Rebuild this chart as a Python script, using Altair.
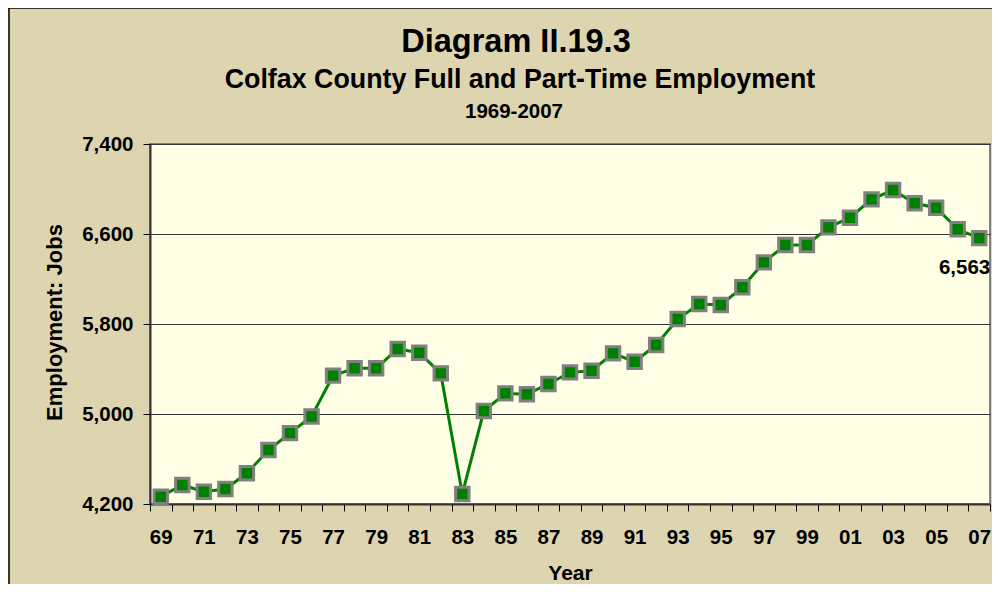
import altair as alt
import pandas as pd

years = [1969, 1970, 1971, 1972, 1973, 1974, 1975, 1976, 1977, 1978, 1979,
         1980, 1981, 1982, 1983, 1984, 1985, 1986, 1987, 1988, 1989, 1990,
         1991, 1992, 1993, 1994, 1995, 1996, 1997, 1998, 1999, 2000, 2001,
         2002, 2003, 2004, 2005, 2006, 2007]
jobs = [4265, 4369, 4309, 4333, 4473, 4680, 4830, 4978, 5341, 5406, 5406,
        5578, 5545, 5361, 4289, 5027, 5183, 5175, 5267, 5370, 5385, 5539,
        5465, 5613, 5844, 5978, 5969, 6126, 6348, 6502, 6502, 6659, 6745,
        6908, 6991, 6873, 6834, 6642, 6563]
y_ticks = [4200, 5000, 5800, 6600, 7400]
tick_edges = [y - 0.5 for y in years] + [years[-1] + 0.5]
title_lines = ["Diagram II.19.3", "Colfax County Full and Part-Time Employment", "1969-2007"]

FONT = "Arial, Liberation Sans, sans-serif"
df = pd.DataFrame({"Year": years, "Jobs": jobs})

W, H = 840, 360

x = alt.X("Year:Q",
          scale=alt.Scale(domain=[years[0] - 0.5, years[-1] + 0.5], nice=False, zero=False),
          axis=alt.Axis(values=tick_edges, grid=False, title="Year",
                        labelExpr="(datum.value + 0.5) % 2 == 1 && datum.value < 2007 ? substring(toString(datum.value + 0.5), 2) : ''",
                        labelOffset=W / 39 / 2, labelFlush=False, labelOverlap=False,
                        labelPadding=16, tickSize=7, tickColor="#000000",
                        domainColor="#333333", domainWidth=2,
                        labelFont=FONT, labelFontSize=20.5, labelFontWeight="bold", labelColor="#000000",
                        titleFont=FONT, titleFontSize=21, titleFontWeight="bold", titleColor="#000000",
                        titleBaseline="alphabetic", titleY=75, titleX=W / 2))
y = alt.Y("Jobs:Q",
          scale=alt.Scale(domain=[4200, 7400], nice=False, zero=False),
          axis=alt.Axis(values=y_ticks, labelExpr="format(datum.value, ',')", title="Employment: Jobs",
                        grid=True, gridColor="#333333", gridWidth=1,
                        tickSize=7, tickColor="#000000", labelPadding=10,
                        domainColor="#333333", domainWidth=2,
                        labelFont=FONT, labelFontSize=20.5, labelFontWeight="bold", labelColor="#000000",
                        titleFont=FONT, titleFontSize=22, titleFontWeight="bold", titleColor="#000000",
                        titleBaseline="alphabetic", titleAlign="center", titleAngle=270,
                        titleX=-89, titleY=178))

base = alt.Chart(df).encode(x=x, y=y)
line = base.mark_line(color="#008000", strokeWidth=3)
pts = base.mark_square(size=180, fill="#008000", stroke="#808080", strokeWidth=3, opacity=1)
lbl = alt.Chart(df.tail(1)).mark_text(font=FONT, fontSize=20.5, fontWeight="bold", color="#000000",
                                        align="right", baseline="middle", dx=11, dy=30).encode(
    x=x, y=y, text=alt.Text("Jobs:Q", format=","))

tdf = pd.DataFrame({"t": title_lines})
t1 = alt.Chart(tdf.iloc[[0]]).mark_text(font=FONT, fontSize=32.5, fontWeight="bold", color="#000000",
                                         align="center", baseline="alphabetic").encode(
    text="t:N", x=alt.value(366), y=alt.value(-92))
t2 = alt.Chart(tdf.iloc[[1]]).mark_text(font=FONT, fontSize=26.8, fontWeight="bold", color="#000000",
                                         align="center", baseline="alphabetic").encode(
    text="t:N", x=alt.value(370), y=alt.value(-56))
t3 = alt.Chart(tdf.iloc[[2]]).mark_text(font=FONT, fontSize=20.5, fontWeight="bold", color="#000000",
                                         align="center", baseline="alphabetic").encode(
    text="t:N", x=alt.value(364), y=alt.value(-26))

border_l = alt.Chart(tdf.iloc[[0]]).mark_rule(color="#000000", strokeWidth=1.5).encode(
    x=alt.value(-141), y=alt.value(-136), y2=alt.value(460))
border_t = alt.Chart(tdf.iloc[[0]]).mark_rule(color="#000000", strokeWidth=1.5).encode(
    x=alt.value(-142), x2=alt.value(860), y=alt.value(-136))

chart = alt.layer(line, pts, lbl, t1, t2, t3, border_l, border_t).properties(
    width=W, height=H,
    autosize=alt.AutoSizeParams(type="none"),
    padding={"left": 142, "top": 136, "right": 2, "bottom": 80},
    background="#DDD5B0",
).configure_view(fill="#FFFFE6", stroke="#808080", strokeWidth=2)

chart.save("out.html", embed_options={"renderer": "svg", "actions": False})
